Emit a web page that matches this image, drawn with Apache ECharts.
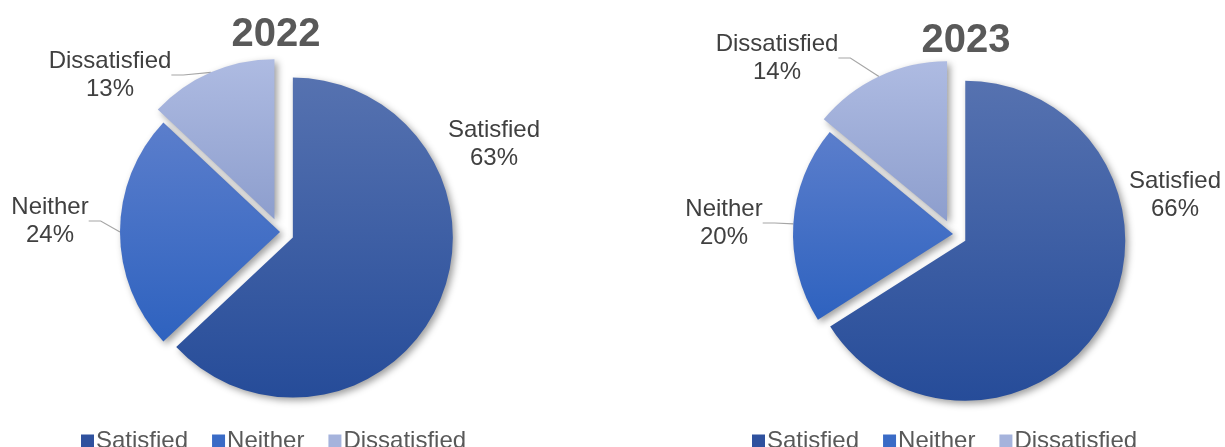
<!DOCTYPE html>
<html>
<head>
<meta charset="utf-8">
<script src="https://cdn.jsdelivr.net/npm/echarts@6/dist/echarts.min.js"></script>
<style>
  html, body { margin: 0; padding: 0; background: #fff; }
  #chart { width: 1225px; height: 447px; }
</style>
</head>
<body>
<div id="chart"></div>
<script>
// ---- data ----
const categories = ['Satisfied', 'Neither', 'Dissatisfied'];
const years = ['2022', '2023'];
const values2022 = [63, 24, 13];
const values2023 = [66, 20, 14];
const explodedSlices = ['Satisfied', 'Dissatisfied'];

// ---- styling ----
const fills = {
  Satisfied: ['#5672B0', '#264C99'],
  Neither: ['#5B7ECC', '#2E62BF'],
  Dissatisfied: ['#AEBBE2', '#8D9ECD']
};
const legendColors = { Satisfied: '#2F519E', Neither: '#3A6BC6', Dissatisfied: '#A5B3DC' };
const FONT = '"Liberation Sans", Arial, sans-serif';
const EXPLODE = 14;
const RADIUS = 160;
const centers = [[280, 232], [953, 234]];
// label placement (layout only): centre of each label block
const labelSpots = [
  { Satisfied: [494, 144], Neither: [50, 221], Dissatisfied: [110, 75] },
  { Satisfied: [1175, 195], Neither: [724, 223], Dissatisfied: [777, 58] }
];

function grad(name) {
  return {
    type: 'linear', x: 0, y: 0, x2: 0, y2: 1,
    colorStops: [{ offset: 0, color: fills[name][0] }, { offset: 1, color: fills[name][1] }]
  };
}

// one pie series per slice so each slice can be pulled out along its own bisector
function makeSliceSeries(yearIdx, values, sliceIdx) {
  const total = values.reduce((a, b) => a + b, 0);
  let before = 0;
  for (let i = 0; i < sliceIdx; i++) before += values[i];
  const mid = 2 * Math.PI * (before + values[sliceIdx] / 2) / total; // clockwise from 12 o'clock
  const off = explodedSlices.includes(categories[sliceIdx]) ? EXPLODE : 0;
  const c = [centers[yearIdx][0] + Math.sin(mid) * off, centers[yearIdx][1] - Math.cos(mid) * off];
  const target = categories[sliceIdx];
  return {
    type: 'pie',
    name: years[yearIdx] + ' ' + target,
    center: c,
    radius: RADIUS,
    startAngle: 90,
    clockwise: true,
    animation: false,
    silent: true,
    z: 2,
    data: categories.map((cat, i) => {
      const on = cat === target;
      return {
        name: cat,
        value: values[i],
        itemStyle: on ? {
          color: grad(cat),
          shadowBlur: 7, shadowOffsetX: 3, shadowOffsetY: 3, shadowColor: 'rgba(0,0,0,0.38)'
        } : { color: 'rgba(0,0,0,0)', shadowColor: 'rgba(0,0,0,0)', shadowBlur: 0 },
        label: { show: on },
        labelLine: { show: on && cat !== 'Satisfied' }
      };
    }),
    label: {
      show: true,
      position: 'outside',
      formatter: '{b}\n{c}%',
      fontFamily: FONT,
      fontSize: 24,
      lineHeight: 28,
      color: '#404040',
      align: 'center',
      overflow: 'none'
    },
    labelLine: {
      length: 10,
      length2: 12,
      lineStyle: { color: '#A6A6A6', width: 1.2 }
    },
    labelLayout: function (p) {
      const pos = labelSpots[yearIdx][categories[p.dataIndex]];
      return { x: pos[0], y: pos[1], align: 'center', verticalAlign: 'middle' };
    }
  };
}

const series = [];
[values2022, values2023].forEach((vals, y) => {
  categories.forEach((_, k) => series.push(makeSliceSeries(y, vals, k)));
});

const legendBase = {
  data: categories.map(c => ({ name: c, itemStyle: { color: legendColors[c] } })),
  top: 424, itemWidth: 13, itemHeight: 13, itemGap: 24, icon: 'rect', selectedMode: false,
  textStyle: { fontFamily: FONT, fontSize: 24, color: '#595959', padding: [0, 0, 0, -3] }
};

const chart = echarts.init(document.getElementById('chart'), null, { renderer: 'canvas' });
chart.setOption({
  backgroundColor: '#ffffff',
  animation: false,
  title: [
    { text: years[0], left: 271, top: 10, textAlign: 'center',
      textStyle: { fontFamily: FONT, fontSize: 40, fontWeight: 'bold', color: '#595959' } },
    { text: years[1], left: 961, top: 16, textAlign: 'center',
      textStyle: { fontFamily: FONT, fontSize: 40, fontWeight: 'bold', color: '#595959' } }
  ],
  legend: [
    Object.assign({}, legendBase, { left: 76 }),
    Object.assign({}, legendBase, { left: 747 })
  ],
  series: series
});
</script>
</body>
</html>
